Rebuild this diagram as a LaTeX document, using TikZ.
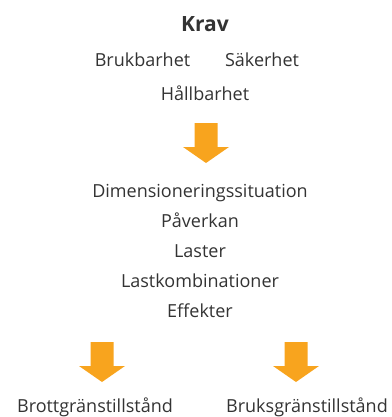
\documentclass[tikz,border=0pt]{standalone}
\usepackage{fontspec}
\setmainfont{Open Sans}
\definecolor{textgray}{HTML}{333333}
\definecolor{arroworange}{HTML}{F8A41E}
\newcommand\blockarrowat[1]{%
  \fill[arrowfill, shift={(#1)}] (-11.5,0) -- (11.5,0) -- (11.5,24) -- (23,24) -- (0,40) -- (-23,24) -- (-11.5,24) -- cycle;}
\begin{document}
\begin{tikzpicture}[x=1pt,y=-1pt,
  txt/.style={text=textgray, inner sep=0pt, anchor=base, font=\fontsize{18}{21}\selectfont},
  title/.style={txt, font=\fontsize{21}{24}\selectfont\bfseries},
  arrowfill/.style={fill=arroworange}]
\useasboundingbox (0,0) rectangle (391,417);
\node[title] (krav) at (205,32) {Krav};
\node[txt] (bruk) at (142.5,67) {Brukbarhet};
\node[txt] (saker) at (262,67) {Säkerhet};
\node[txt] (hall) at (205,100) {Hållbarhet};
\coordinate (a1) at (206,123);
\blockarrowat{a1}
\node[txt] (dim) at (200,197) {Dimensioneringssituation};
\node[txt] (pav) at (200,227) {Påverkan};
\node[txt] (last) at (200,257) {Laster};
\node[txt] (lastk) at (200,287) {Lastkombinationer};
\node[txt] (eff) at (200,317) {Effekter};
\coordinate (a2) at (102,342);
\blockarrowat{a2}
\coordinate (a3) at (296,342);
\blockarrowat{a3}
\node[txt] (brott) at (95,412) {Brottgränstillstånd};
\node[txt] (bruks) at (307,412) {Bruksgränstillstånd};
\end{tikzpicture}
\end{document}
